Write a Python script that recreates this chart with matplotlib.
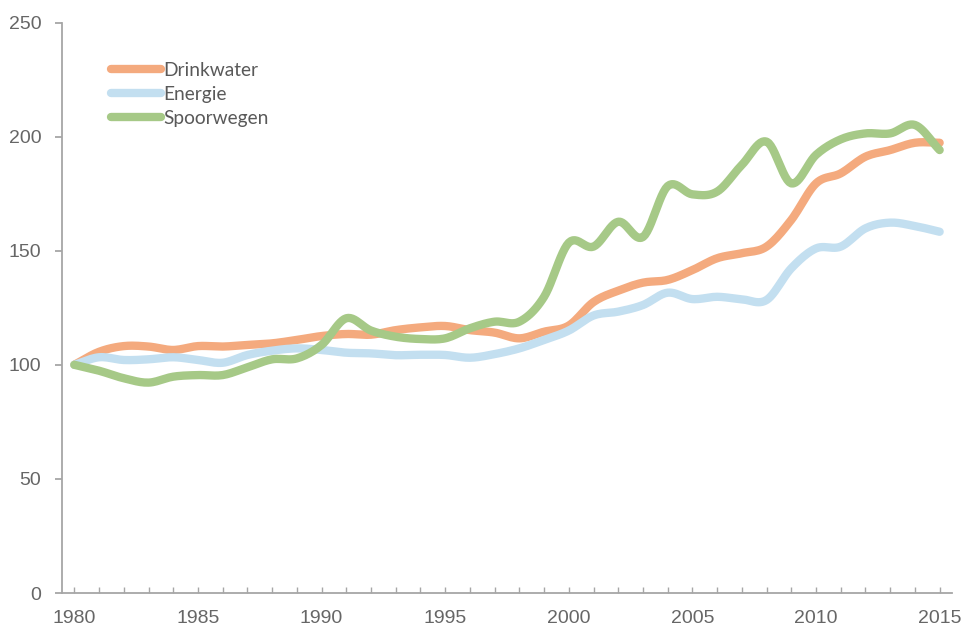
import numpy as np
import matplotlib.pyplot as plt
from matplotlib.lines import Line2D

years = list(range(1980, 2016))

drinkwater = [100, 105.7, 108.2, 108.0, 106.5, 108.2, 108.0, 108.7, 109.4, 110.9,
              112.6, 113.5, 113.2, 115.2, 116.4, 117.0, 115.2, 114.1, 111.6, 114.5,
              117.2, 127.5, 132.5, 136.0, 137.2, 141.5, 146.7, 148.9, 151.8, 163.5,
              179.5, 183.9, 191.2, 194.1, 197.3, 197.3]
energie = [100, 103.3, 102.1, 102.4, 103.3, 102.1, 100.9, 104.3, 106.2, 107.2,
           106.5, 105.3, 105.0, 104.2, 104.4, 104.3, 103.1, 104.7, 107.2, 110.9,
           115.0, 121.6, 123.3, 126.2, 131.6, 128.8, 129.8, 128.7, 128.4, 142.3,
           151.0, 151.8, 159.8, 162.3, 160.8, 158.3]
spoorwegen = [100, 97.4, 94.1, 92.2, 94.8, 95.5, 95.5, 98.9, 102.4, 102.8,
              108.7, 120.4, 115.0, 112.3, 111.3, 111.6, 116.0, 118.9, 118.9, 129.8,
              153.5, 151.8, 162.7, 156.0, 178.3, 174.7, 175.9, 187.6, 197.8, 179.5,
              192.0, 198.8, 201.4, 201.4, 205.1, 194.1]

series = [("Drinkwater", drinkwater, "#F4AA7E"),
          ("Energie", energie, "#C3DFF0"),
          ("Spoorwegen", spoorwegen, "#A6C987")]


def smooth(x, y, n=12):
    # catmull-rom curve through the points, like a smoothed excel line
    x = np.asarray(x, float)
    y = np.asarray(y, float)
    px = np.concatenate([[2 * x[0] - x[1]], x, [2 * x[-1] - x[-2]]])
    py = np.concatenate([[2 * y[0] - y[1]], y, [2 * y[-1] - y[-2]]])
    t = np.linspace(0, 1, n, endpoint=False)
    xs, ys = [], []
    for i in range(1, len(px) - 2):
        for p, out in ((px, xs), (py, ys)):
            p0, p1, p2, p3 = p[i - 1], p[i], p[i + 1], p[i + 2]
            out.extend(0.5 * ((2 * p1) + (-p0 + p2) * t
                              + (2 * p0 - 5 * p1 + 4 * p2 - p3) * t ** 2
                              + (-p0 + 3 * p1 - 3 * p2 + p3) * t ** 3))
    xs.append(x[-1])
    ys.append(y[-1])
    return np.array(xs), np.array(ys)


plt.rcParams["font.family"] = ["Liberation Sans", "DejaVu Sans"]

fig = plt.figure(figsize=(9.64, 6.27), dpi=100)
ax = fig.add_axes([62 / 964, 34 / 627, 890 / 964, 570.5 / 627])

for name, vals, col in series:
    sx, sy = smooth(years, vals)
    ax.plot(sx, sy, color=col, lw=6, solid_capstyle="round",
            solid_joinstyle="round", label=name)

ax.set_xlim(1979.5, 2015.5)
ax.set_ylim(0, 250)
ax.set_yticks(range(0, 251, 50))
ax.set_xticks(range(1980, 2016, 5))
ax.set_xticks(range(1980, 2016), minor=True)

grey = "#A6A6A6"
for s in ["top", "right"]:
    ax.spines[s].set_visible(False)
for s in ["left", "bottom"]:
    ax.spines[s].set_color(grey)
    ax.spines[s].set_linewidth(1.3)

ax.tick_params(axis="y", direction="out", length=5, width=1.3, color=grey,
               labelsize=14, labelcolor="#666666", pad=10)
ax.tick_params(axis="x", which="both", direction="in", length=4, width=1.0,
               color=grey, labelsize=14, labelcolor="#666666", pad=12)

handles = [Line2D([], [], color=c, lw=6, solid_capstyle="round") for _, _, c in series]
leg = ax.legend(handles, [n for n, _, _ in series], loc="upper left",
                bbox_to_anchor=(0.047, 0.945), frameon=False, handlelength=2.6,
                handletextpad=0.1, labelspacing=0.38, borderaxespad=0,
                prop={"family": "Lato", "size": 13.8})
for t in leg.get_texts():
    t.set_color("#595959")

fig.savefig("out.png", dpi=100)
